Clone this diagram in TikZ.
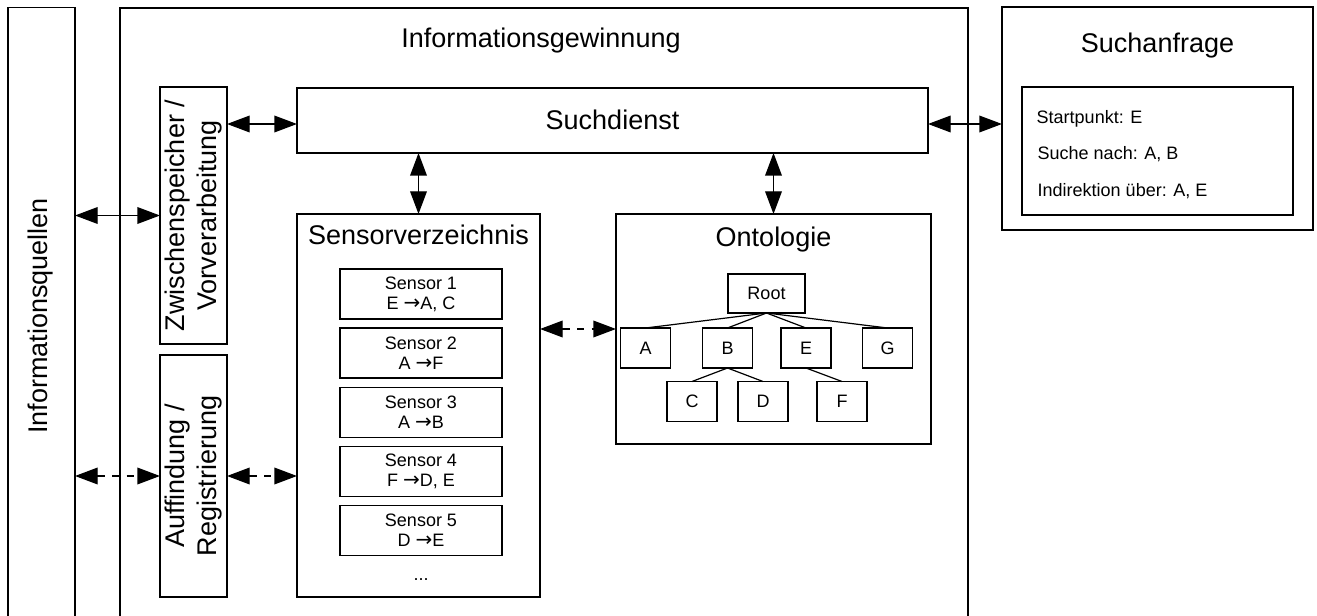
\documentclass[tikz,border=0pt]{standalone}
\usepackage{fontspec}
\setmainfont{Liberation Sans}
\newfontfamily\arrowfont{DejaVu Sans}
\usetikzlibrary{arrows.meta,calc}

\newcommand{\bigtext}{\fontsize{20.25}{24.3}\selectfont}
\newcommand{\smalltext}{\fontsize{13.5}{15}\selectfont}
\newcommand{\sensarrow}{{\arrowfont\fontsize{15}{15}\selectfont →}}

\tikzset{
  box/.style={draw, line width=1pt, inner sep=0pt, outer sep=0pt},
  leaf/.style={box, minimum width=37.5pt, minimum height=30pt, font=\smalltext},
  sensorbox/.style={box, minimum width=121.5pt, minimum height=37.5pt, align=center, font=\smalltext},
  biarrow/.style={line width=1pt, {Triangle[length=17pt,width=12.5pt]}-{Triangle[length=17pt,width=12.5pt]}},
  dasharrow/.style={biarrow, dash pattern=on 5.5pt off 5.5pt},
  treeedge/.style={line width=0.9pt},
  vlabel/.style={rotate=90, align=center, font=\bigtext},
}

\begin{document}
\begin{tikzpicture}[x=0.75pt, y=-0.75pt]
  \clip (0,0) rectangle (1317,616);
  \fill[white] (0,0) rectangle (1317,616);

  % outer columns
  \node[box, minimum width=50.25pt, minimum height=463.5pt] (quellen) at (41.5,316.5) {};
  \node[vlabel] (quellentext) at (41,316) {Informationsquellen};

  \node[box, minimum width=636pt, minimum height=462.75pt] (gewinnung) at (544,316.5) {};
  \node[font=\bigtext, anchor=base] (gewinnungtext) at (541,48) {Informationsgewinnung};

  % caching and discovery
  \node[box, minimum width=50.25pt, minimum height=192.75pt] (zwischen) at (193.5,215.5) {};
  \node[vlabel] (zwischentext) at (zwischen.center) {Zwischenspeicher /\\Vorverarbeitung};

  \node[box, minimum width=50.25pt, minimum height=181.5pt] (auffindung) at (193.5,476) {};
  \node[vlabel] (auffindungtext) at (auffindung.center) {Auffindung /\\Registrierung};

  % search service
  \node[box, minimum width=473.25pt, minimum height=48.75pt] (suchdienst) at (612.5,120.5) {};
  \node[font=\bigtext, anchor=base] (suchdiensttext) at (612.5,130) {Suchdienst};

  % sensor directory
  \node[box, minimum width=182.25pt, minimum height=287.25pt] (sensverz) at (418.5,405.5) {};
  \node[font=\bigtext, anchor=base] (sensverztext) at (418.5,245) {Sensorverzeichnis};

  \node[sensorbox] (s1) at (421,294) {Sensor 1\\E \sensarrow A, C};
  \node[sensorbox] (s2) at (421,353) {Sensor 2\\A \sensarrow F};
  \node[sensorbox] (s3) at (421,412.5) {Sensor 3\\A \sensarrow B};
  \node[sensorbox] (s4) at (421,471.5) {Sensor 4\\F \sensarrow D, E};
  \node[sensorbox] (s5) at (421,530.5) {Sensor 5\\D \sensarrow E};
  \node[font=\smalltext, anchor=base] (sdots) at (421,580) {...};

  % ontology
  \node[box, minimum width=236.25pt, minimum height=172.5pt] (ontologie) at (773.5,329) {};
  \node[font=\bigtext, anchor=base] (ontologietext) at (773.5,247) {Ontologie};

  \node[box, minimum width=57.75pt, minimum height=29.25pt, font=\smalltext] (root) at (766.5,293.5) {Root};
  \node[leaf] (nA) at (645.5,348) {A};
  \node[leaf] (nB) at (727.5,348) {B};
  \node[leaf] (nE) at (806,348) {E};
  \node[leaf] (nG) at (887.5,348) {G};
  \node[leaf] (nC) at (692,401.5) {C};
  \node[leaf] (nD) at (763,401.5) {D};
  \node[leaf] (nF) at (842,401.5) {F};

  \foreach \child in {nA,nB,nE,nG}
    \draw[treeedge] (root.south) -- (\child.north);
  \draw[treeedge] (nB.south) -- (nC.north);
  \draw[treeedge] (nB.south) -- (nD.north);
  \draw[treeedge] (nE.south) -- (nF.north);

  % search request
  \node[box, minimum width=233.25pt, minimum height=167.25pt] (anfrage) at (1157.5,118.5) {};
  \node[font=\bigtext, anchor=base] (anfragetext) at (1157.5,53) {Suchanfrage};
  \node[box, minimum width=203.25pt, minimum height=96pt] (query) at (1157.5,151) {};
  \node[font=\smalltext, anchor=base west] (q1) at (1032,124) {Startpunkt: E};
  \node[font=\smalltext, anchor=base west] (q2) at (1033,160) {Suche nach: A, B};
  \node[font=\smalltext, anchor=base west] (q3) at (1033,197) {Indirektion über: A, E};

  % connectors
  \coordinate (toprow) at (0,124);
  \draw[biarrow] (quellen.east |- zwischen.west) -- (zwischen.west);
  \draw[biarrow] (zwischen.east |- toprow) -- (suchdienst.west |- toprow);
  \draw[biarrow] (suchdienst.east |- toprow) -- (anfrage.west |- toprow);
  \draw[biarrow] (sensverz.north |- suchdienst.south) -- (sensverz.north);
  \draw[biarrow] (ontologie.north |- suchdienst.south) -- (ontologie.north);
  \draw[dasharrow] (quellen.east |- auffindung.west) -- (auffindung.west);
  \draw[dasharrow] (auffindung.east) -- (auffindung.east -| sensverz.west);
  \draw[dasharrow] (sensverz.east |- ontologie.west) -- (ontologie.west);
\end{tikzpicture}
\end{document}
